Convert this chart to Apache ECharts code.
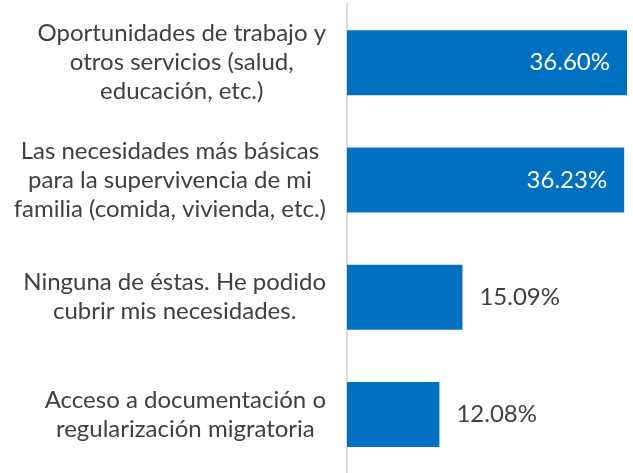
<!DOCTYPE html>
<html>
<head>
<meta charset="utf-8">
<script src="https://cdn.jsdelivr.net/npm/echarts@6/dist/echarts.min.js"></script>
<style>
  html, body { margin: 0; padding: 0; background: #fff; }
  #chart { width: 633px; height: 473px; }
</style>
</head>
<body>
<div id="chart"></div>
<script>
// Answer options, top to bottom
const categories = [
  'Oportunidades de trabajo y\notros servicios (salud,\neducación, etc.)',
  'Las necesidades más básicas\npara la supervivencia de mi\nfamilia (comida, vivienda, etc.)',
  'Ninguna de éstas. He podido\ncubrir mis necesidades.',
  'Acceso a documentación o\nregularización migratoria'
];
// Share of respondents, percent
const values = [36.60, 36.23, 15.09, 12.08];

const FONT = 'Lato, "Noto Sans", sans-serif';
const TEXT = '#404040';
const BAR = '#0070c0';

// Long bars carry their value inside, short ones just past the end
const seriesData = values.map(v => {
  const inside = v > 30;
  return {
    value: v,
    label: inside
      ? { position: 'insideRight', distance: 17, color: '#ffffff' }
      : { position: 'right', distance: 17, color: TEXT }
  };
});

const chart = echarts.init(document.getElementById('chart'), null, { renderer: 'canvas' });
chart.setOption({
  animation: false,
  backgroundColor: '#ffffff',
  grid: { left: 347, right: 6, top: 4, bottom: 0, containLabel: false },
  xAxis: {
    type: 'value',
    min: 0,
    max: Math.max(...values),
    show: false
  },
  yAxis: {
    type: 'category',
    data: categories,
    inverse: true,
    axisLine: { show: true, lineStyle: { color: '#d9d9d9', width: 2 } },
    axisTick: { show: false },
    splitLine: { show: false },
    axisLabel: {
      margin: 21,
      align: 'right',
      color: TEXT,
      fontFamily: FONT,
      fontSize: 24,
      lineHeight: 29,
      formatter: function (val) {
        return val.split('\n').map(l => '{c|' + l + '}').join('\n');
      },
      rich: {
        c: { align: 'center', color: TEXT, fontFamily: FONT, fontSize: 24, lineHeight: 29 }
      }
    }
  },
  series: [{
    type: 'bar',
    data: seriesData,
    barWidth: 65,
    itemStyle: { color: BAR },
    label: {
      show: true,
      fontFamily: FONT,
      fontSize: 24,
      formatter: p => p.value.toFixed(2) + '%'
    }
  }]
});
</script>
</body>
</html>
